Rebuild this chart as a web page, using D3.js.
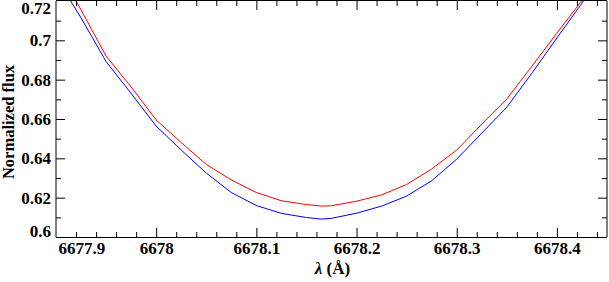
<!DOCTYPE html>
<html>
<head>
<meta charset="utf-8">
<script src="https://cdn.jsdelivr.net/npm/d3@7"></script>
<style>
  html, body { margin: 0; padding: 0; background: #fff; }
  svg { display: block; }
  text { font-family: "Liberation Serif", "Times New Roman", serif; font-weight: bold; }
</style>
</head>
<body>
<script>
// ---- data ----
const lambda = [6677.900, 6677.925, 6677.950, 6677.975, 6678.000, 6678.025, 6678.050,
                6678.075, 6678.100, 6678.125, 6678.150, 6678.165, 6678.175, 6678.200,
                6678.225, 6678.250, 6678.275, 6678.300, 6678.325, 6678.350, 6678.375,
                6678.400, 6678.425, 6678.450];
const fluxBlue = [0.7322, 0.7114, 0.6892, 0.6730, 0.6564, 0.6442, 0.6325,
                  0.6226, 0.6160, 0.6120, 0.6099, 0.6091, 0.6095, 0.6121,
                  0.6157, 0.6208, 0.6286, 0.6396, 0.6528, 0.6660, 0.6833,
                  0.7012, 0.7189, 0.7380];
const fluxRed  = [0.7375, 0.7155, 0.6920, 0.6763, 0.6595, 0.6480, 0.6369,
                  0.6290, 0.6226, 0.6184, 0.6165, 0.6157, 0.6159, 0.6182,
                  0.6214, 0.6267, 0.6346, 0.6442, 0.6574, 0.6702, 0.6868,
                  0.7037, 0.7203, 0.7400];
const xDomain = [6677.9, 6678.45];
const yDomain = [0.6, 0.72];
const xMajorTicks = [6677.9, 6678.0, 6678.1, 6678.2, 6678.3, 6678.4];
const xMinorTicks = d3.range(0, 28).map(i => +(6677.9 + i * 0.02).toFixed(2));
const yMajorTicks = [0.60, 0.62, 0.64, 0.66, 0.68, 0.70, 0.72];
const yMinorTicks = d3.range(0, 13).map(i => +(0.6 + i * 0.01).toFixed(2));
const xTitleSymbol = "λ";
const xTitleUnit = " (Å)";
const yTitle = "Normalized flux";

// ---- layout ----
const W = 609, H = 282;
const L = 56, R = 607, T = 1, B = 237;

const svg = d3.select("body").append("svg").attr("width", W).attr("height", H);

const x = d3.scaleLinear().domain(xDomain).range([L, R]);
const y = d3.scaleLinear().domain(yDomain).range([B, T]);

const fmt = d => String(+d.toFixed(2));

svg.append("clipPath").attr("id", "clip")
  .append("rect").attr("x", L).attr("y", T).attr("width", R - L).attr("height", B - T);

// curves
const line = vals => d3.line().x((d, i) => x(lambda[i])).y(d => y(d))(vals);
const g = svg.append("g").attr("clip-path", "url(#clip)");
g.append("path").attr("d", line(fluxBlue)).attr("fill", "none").attr("stroke", "#0000ff").attr("stroke-width", 1);
g.append("path").attr("d", line(fluxRed)).attr("fill", "none").attr("stroke", "#ff0000").attr("stroke-width", 1);

// axes: ticks pointing inward on all four sides
const fontSize = 17;
function styleAxis(sel) {
  sel.select(".domain").remove();
  sel.selectAll("line").attr("stroke", "#000").attr("stroke-width", 1);
  sel.selectAll("text").attr("font-size", fontSize).attr("fill", "#000");
}
const minorX = xMinorTicks.filter(v => !xMajorTicks.some(m => Math.abs(m - v) < 1e-6) && v > xDomain[0] + 1e-6 && v < xDomain[1] - 1e-6);
const minorY = yMinorTicks.filter(v => !yMajorTicks.some(m => Math.abs(m - v) < 1e-6) && v > yDomain[0] + 1e-6 && v < yDomain[1] - 1e-6);
const majorXin = xMajorTicks.filter(v => v > xDomain[0] + 1e-6);
const majorYin = yMajorTicks.filter(v => v > yDomain[0] + 1e-6 && v < yDomain[1] - 1e-6);

// bottom labelled axis
const gxb = svg.append("g").attr("transform", `translate(0,${B})`)
  .call(d3.axisBottom(x).tickValues(xMajorTicks).tickFormat(fmt).tickSizeInner(-9).tickSizeOuter(0).tickPadding(5));
styleAxis(gxb);
gxb.selectAll("text").attr("y", 5);
gxb.selectAll(".tick").filter(d => d <= xDomain[0] + 1e-6).select("line").remove();
gxb.selectAll(".tick").filter(d => d <= xDomain[0] + 1e-6).select("text").attr("text-anchor", "start").attr("dx", 2);
svg.append("g").attr("transform", `translate(0,${B})`)
  .call(d3.axisBottom(x).tickValues(minorX).tickFormat("").tickSizeInner(-5).tickSizeOuter(0)).call(styleAxis);
// top
svg.append("g").attr("transform", `translate(0,${T})`)
  .call(d3.axisTop(x).tickValues(majorXin).tickFormat("").tickSizeInner(-9).tickSizeOuter(0)).call(styleAxis);
svg.append("g").attr("transform", `translate(0,${T})`)
  .call(d3.axisTop(x).tickValues(minorX).tickFormat("").tickSizeInner(-5).tickSizeOuter(0)).call(styleAxis);

// left labelled axis
const gyl = svg.append("g").attr("transform", `translate(${L},0)`)
  .call(d3.axisLeft(y).tickValues(yMajorTicks).tickFormat(fmt).tickSizeInner(-9).tickSizeOuter(0).tickPadding(5));
styleAxis(gyl);
gyl.selectAll("text").attr("x", -5);
gyl.selectAll(".tick").filter(d => d <= yDomain[0] + 1e-6 || d >= yDomain[1] - 1e-6).select("line").remove();
gyl.selectAll(".tick").filter(d => d <= yDomain[0] + 1e-6).select("text").attr("dy", "-0.05em");
gyl.selectAll(".tick").filter(d => d >= yDomain[1] - 1e-6).select("text").attr("dy", "0.72em");
svg.append("g").attr("transform", `translate(${L},0)`)
  .call(d3.axisLeft(y).tickValues(minorY).tickFormat("").tickSizeInner(-5).tickSizeOuter(0)).call(styleAxis);
// right
svg.append("g").attr("transform", `translate(${R},0)`)
  .call(d3.axisRight(y).tickValues(majorYin).tickFormat("").tickSizeInner(-9).tickSizeOuter(0)).call(styleAxis);
svg.append("g").attr("transform", `translate(${R},0)`)
  .call(d3.axisRight(y).tickValues(minorY).tickFormat("").tickSizeInner(-5).tickSizeOuter(0)).call(styleAxis);

// frame
svg.append("line").attr("x1", L).attr("x2", L).attr("y1", T).attr("y2", B).attr("stroke", "#000");
svg.append("line").attr("x1", R).attr("x2", R).attr("y1", T).attr("y2", B).attr("stroke", "#000");
svg.append("line").attr("x1", L).attr("x2", R).attr("y1", B + 0.5).attr("y2", B + 0.5).attr("stroke", "#000");
svg.append("line").attr("x1", L).attr("x2", R).attr("y1", T - 0.5).attr("y2", T - 0.5).attr("stroke", "#000");

// titles
const xt = svg.append("text").attr("x", (L + R) / 2 + 1).attr("y", 274)
  .attr("text-anchor", "middle").attr("font-size", fontSize).attr("fill", "#000");
xt.append("tspan").attr("font-style", "italic").text(xTitleSymbol);
xt.append("tspan").text(xTitleUnit);

svg.append("text").attr("transform", `translate(14,${(T + B) / 2 + 3}) rotate(-90)`)
  .attr("text-anchor", "middle").attr("font-size", 16.5).attr("fill", "#000").text(yTitle);
</script>
</body>
</html>
